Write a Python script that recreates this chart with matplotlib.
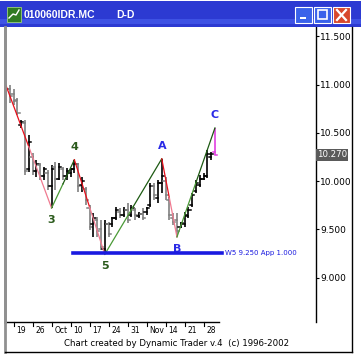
import matplotlib
matplotlib.use("Agg")
import matplotlib.pyplot as plt
import matplotlib.transforms as mtransforms
from matplotlib.patches import Rectangle

# daily bars, 17 Sep - 3 Dec (trading days)
highs = [10.98, 10.99, 10.95, 10.86, 10.63, 10.63, 10.48, 10.29, 10.22, 10.19,
         10.15, 10.11, 10.17, 10.20, 10.19, 10.15, 10.13, 10.13, 10.22, 10.19,
         10.04, 9.94, 9.75, 9.67, 9.63, 9.60, 9.60, 9.58, 9.63, 9.73,
         9.72, 9.73, 9.77, 9.75, 9.72, 9.68, 9.72, 9.73, 9.98, 9.98,
         10.01, 10.23, 10.04, 9.83, 9.67, 9.67, 9.58, 9.68, 9.73, 9.88,
         10.01, 10.06, 10.08, 10.32, 10.30, 10.55]
lows = [10.80, 10.81, 10.79, 10.68, 10.55, 10.06, 10.09, 10.06, 10.04, 10.01,
        10.01, 9.91, 9.72, 9.91, 10.01, 10.01, 10.01, 10.04, 10.08, 9.89,
        9.89, 9.75, 9.49, 9.42, 9.42, 9.28, 9.24, 9.42, 9.52, 9.60,
        9.62, 9.63, 9.56, 9.63, 9.60, 9.62, 9.60, 9.65, 9.73, 9.80,
        9.77, 9.88, 9.80, 9.60, 9.54, 9.42, 9.51, 9.52, 9.62, 9.73,
        9.88, 9.94, 10.01, 10.03, 10.22, 10.27]
opens = [10.84, 10.95, 10.90, 10.84, 10.58, 10.60, 10.12, 10.25, 10.10, 10.17,
         10.05, 10.08, 9.95, 10.15, 10.02, 10.12, 10.05, 10.08, 10.12, 10.18,
         9.96, 9.92, 9.72, 9.55, 9.60, 9.50, 9.30, 9.55, 9.55, 9.62,
         9.68, 9.65, 9.70, 9.65, 9.70, 9.64, 9.66, 9.68, 9.75, 9.95,
         9.82, 9.98, 10.00, 9.80, 9.62, 9.60, 9.52, 9.55, 9.64, 9.75,
         9.90, 9.96, 10.02, 10.05, 10.25, 10.30]
closes = [10.95, 10.88, 10.83, 10.70, 10.61, 10.10, 10.40, 10.10, 10.18, 10.05,
          10.12, 9.95, 10.12, 10.02, 10.15, 10.05, 10.10, 10.12, 10.18, 9.95,
          10.00, 9.80, 9.52, 9.62, 9.48, 9.32, 9.55, 9.45, 9.62, 9.70,
          9.65, 9.70, 9.60, 9.72, 9.65, 9.66, 9.62, 9.72, 9.95, 9.85,
          9.98, 10.05, 9.85, 9.65, 9.58, 9.48, 9.56, 9.65, 9.70, 9.85,
          9.98, 10.02, 10.05, 10.28, 10.28, 10.27]

tick_idx = [2, 7, 12, 17, 22, 27, 32, 37, 42, 47, 52]
tick_labels = ["19", "26", "Oct", "10", "17", "24", "31", "Nov", "14", "21", "28"]
price_ticks = [9.0, 9.5, 10.0, 10.5, 11.0, 11.5]

# wave count pivots (bar index, price, label)
wave_idx = [0, 12, 18, 26, 41, 45, 55]
wave_px = [10.99, 9.72, 10.22, 9.24, 10.23, 9.42, 10.55]
wave_lbl = ["", "3", "4", "5", "A", "B", "C"]
target_price = 9.25
last_close = 10.27

W, H = 361, 360
fig = plt.figure(figsize=(W / 100, H / 100), dpi=100)
fig.patch.set_facecolor("white")

ax = fig.add_axes([5 / W, (H - 322) / H, (316 - 5) / W, (322 - 27) / H])
ax.set_xlim(-0.26, 81.6)
ax.set_ylim(8.539, 11.596)
ax.set_facecolor("white")

# OHLC bars
n = len(highs)
for i in range(n):
    if i == n - 1:
        c = "#e040e0"
    elif closes[i] < opens[i]:
        c = "#808080"
    else:
        c = "black"
    ax.plot([i, i], [lows[i], highs[i]], color=c, lw=1.2, solid_capstyle="butt")
    ax.plot([i - 0.6, i], [opens[i], opens[i]], color=c, lw=1.1)
    ax.plot([i, i + 0.6], [closes[i], closes[i]], color=c, lw=1.1)

# zigzag wave lines
for k in range(len(wave_idx) - 1):
    x0, x1 = wave_idx[k], wave_idx[k + 1]
    y0, y1 = wave_px[k], wave_px[k + 1]
    xm, ym = (x0 + x1) / 2, (y0 + y1) / 2
    if y1 < y0:
        c1, c2 = "#e8101c", "#f07a90"
    else:
        c1, c2 = "#4a9a36", "#1d5a12"
    ax.plot([x0, xm], [y0, ym], color=c1, lw=0.9, zorder=3)
    ax.plot([xm, x1], [ym, y1], color=c2, lw=0.9, zorder=3)

green = "#2b5a1c"
blue = "#2a2ae6"
for k in range(1, len(wave_idx)):
    lab = wave_lbl[k]
    col = green if lab in "345" else blue
    up = wave_px[k] > wave_px[k - 1]
    off = 0.13 if up else -0.12
    ax.text(wave_idx[k], wave_px[k] + off, lab, color=col, fontsize=8,
            fontweight="bold", ha="center", va="center")

# target line
ax.plot([17.6, 56.8], [target_price, target_price], color="#1a1ae0", lw=2.6,
        clip_on=False, zorder=4)
ax.text(57.6, target_price, "W5 9.250 App 1.000", color="#1a1ae0", fontsize=5,
        ha="left", va="center")

# axes styling
for s in ["top", "bottom"]:
    ax.spines[s].set_visible(False)
ax.spines["left"].set_color("#909090")
ax.spines["left"].set_linewidth(2)
ax.spines["right"].set_color("black")
ax.spines["right"].set_linewidth(1)
ax.plot([-0.26, 56], [8.539, 8.539], color="black", lw=1, clip_on=False)

ax.yaxis.tick_right()
ax.set_yticks(price_ticks)
ax.set_yticklabels(["%.3f" % p for p in price_ticks])
ax.tick_params(axis="y", direction="out", length=2, width=0.8, pad=1,
               labelsize=6.5, colors="black")
ax.set_xticks([])
trans = mtransforms.blended_transform_factory(ax.transData, ax.transAxes)
for idx, lab in zip(tick_idx, tick_labels):
    ax.plot([idx, idx], [0, -0.012], color="black", lw=0.8, transform=trans,
            clip_on=False)
    ax.text(idx + 0.7, -0.012, lab, fontsize=5.5, ha="left", va="top",
            transform=trans)

ax.text(1.003, last_close, "10.270", color="white", fontsize=6.2,
        ha="left", va="center", transform=ax.get_yaxis_transform(),
        bbox=dict(boxstyle="square,pad=0.15", fc="#5a5a5a", ec="none"))

# window frame overlay (pixel coords)
ov = fig.add_axes([0, 0, 1, 1])
ov.set_xlim(0, W)
ov.set_ylim(H, 0)
ov.axis("off")
ov.patch.set_alpha(0)

ov.plot([5, 5], [27, 352], color="#909090", lw=2)
ov.plot([5, 352], [351.5, 351.5], color="black", lw=1)
ov.plot([352, 352], [27, 352], color="black", lw=1)
ov.text(177, 343, "Chart created by Dynamic Trader v.4  (c) 1996-2002",
        fontsize=6.2, ha="center", va="center")

# title bar
ov.add_patch(Rectangle((0, 1), W, 26, fc="#2c3ad2", ec="none"))
ov.add_patch(Rectangle((0, 19), W, 5, fc="#3e52e4", ec="none"))
ov.add_patch(Rectangle((7, 7), 14, 15, fc="#2f7a22", ec="#9ad07a", lw=0.6))
ov.plot([9, 13, 16, 19], [18, 14, 15, 10], color="white", lw=1)
ov.text(24, 15, "010060IDR.MC", color="white", fontsize=7.5,
        family="Liberation Sans", fontweight="bold", ha="left", va="center")
ov.text(116, 15, "D-D", color="white", fontsize=7.5,
        family="Liberation Sans", fontweight="bold", ha="left", va="center")
ov.add_patch(Rectangle((295, 7), 17, 16, fc="#3a62ea", ec="white", lw=0.8))
ov.add_patch(Rectangle((300, 17), 6, 2, fc="white", ec="none"))
ov.add_patch(Rectangle((314, 7), 17, 16, fc="#3a62ea", ec="white", lw=0.8))
ov.add_patch(Rectangle((318, 10), 9, 9, fc="none", ec="white", lw=1.2))
ov.add_patch(Rectangle((333, 7), 17, 16, fc="#d8482c", ec="white", lw=0.8))
ov.plot([337, 346], [10, 20], color="white", lw=1.6)
ov.plot([337, 346], [20, 10], color="white", lw=1.6)

fig.savefig("out.png", dpi=100)
